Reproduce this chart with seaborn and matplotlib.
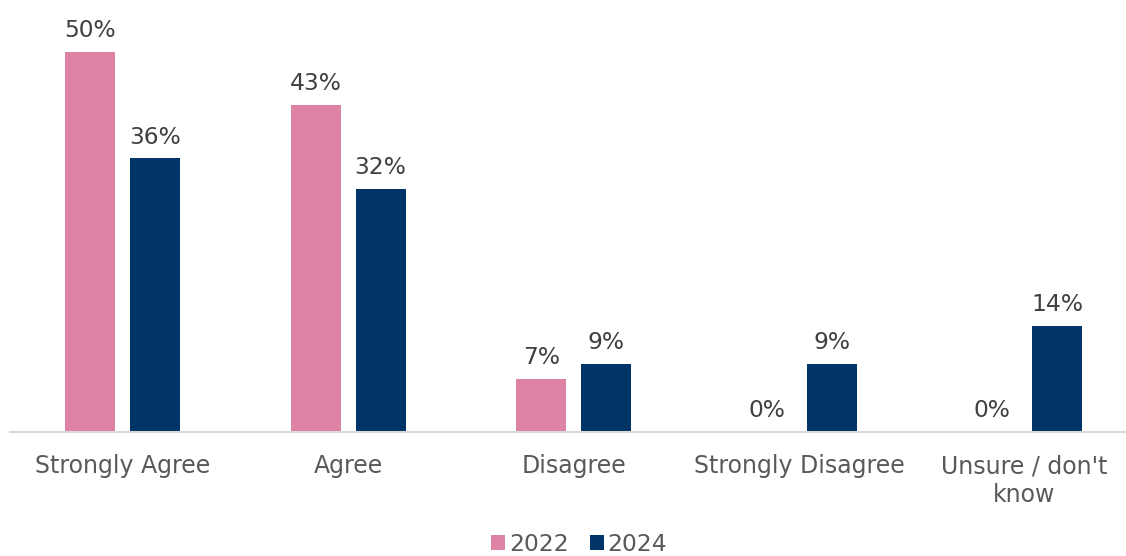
import matplotlib
matplotlib.use("Agg")
import matplotlib.pyplot as plt
import seaborn as sns
import pandas as pd

categories = ["Strongly Agree", "Agree", "Disagree", "Strongly Disagree", "Unsure / don't\nknow"]
years = ["2022", "2024"]
values_2022 = [50, 43, 7, 0, 0]
values_2024 = [36, 32, 9, 9, 14]

df = pd.DataFrame({
    "category": categories * 2,
    "year": [years[0]] * len(categories) + [years[1]] * len(categories),
    "value": values_2022 + values_2024,
})

sns.set_theme(style="white")
plt.rcParams["font.family"] = ["DejaVu Sans"]

palette = {"2022": "#DE83A5", "2024": "#003366"}

fig = plt.figure(figsize=(11.26, 5.56), dpi=100)
ax = fig.add_axes([10 / 1126, 1 - 432 / 556, 1116 / 1126, (432 - 52) / 556])

sns.barplot(data=df, x="category", y="value", hue="year", order=categories,
            hue_order=years, palette=palette, width=0.576, gap=0.23,
            saturation=1, linewidth=0, ax=ax, legend=True)

for container in ax.containers:
    ax.bar_label(container, labels=[f"{v:.0f}%" for v in container.datavalues],
                 padding=7, fontsize=16.8, color="#404040")

ax.set_ylim(0, 50)
ax.set_xlim(-0.5, 4.45)
ax.set_xlabel("")
ax.set_ylabel("")
ax.set_yticks([])
for side in ["left", "right", "top"]:
    ax.spines[side].set_visible(False)
ax.spines["bottom"].set_color("#D9D9D9")
ax.spines["bottom"].set_linewidth(1.5)
ax.tick_params(axis="x", length=0, pad=16, labelsize=17, labelcolor="#595959")
for lbl in ax.get_xticklabels():
    lbl.set_linespacing(1.25)

leg = ax.legend(loc="upper center", bbox_to_anchor=(0.51, -0.235), ncol=2, frameon=False,
                fontsize=16.8, handlelength=0.6, handleheight=0.6, handletextpad=0.15,
                columnspacing=0.9, labelcolor="#595959", borderpad=0)

fig.savefig("out.png", dpi=100)
